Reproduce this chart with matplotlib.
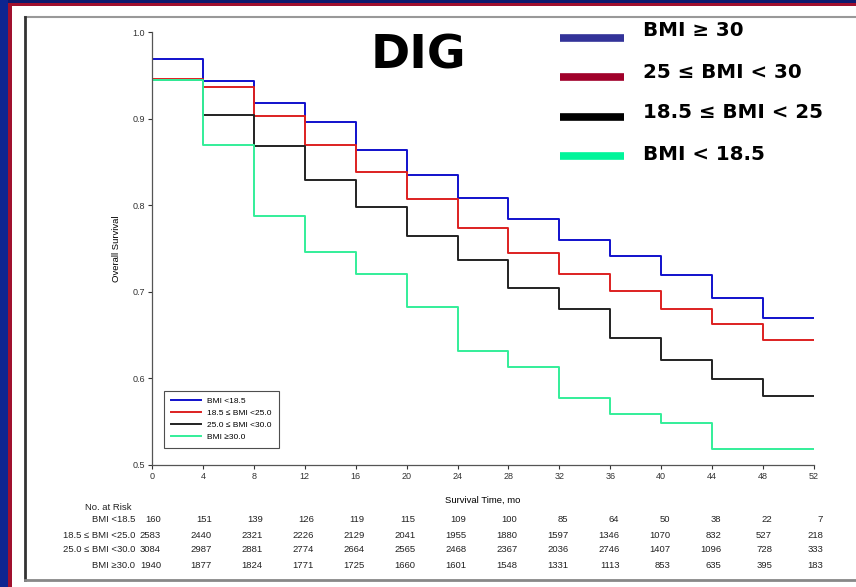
import matplotlib
matplotlib.use("Agg")
import matplotlib.pyplot as plt
from matplotlib.patches import Rectangle
from matplotlib.lines import Line2D

plt.rcParams['font.family'] = ['Liberation Sans', 'DejaVu Sans']

# survival time (months) at the start of each step
months = [0, 4, 8, 12, 16, 20, 24, 28, 32, 36, 40, 44, 48, 52]

# survival estimates
surv_blue = [0.969, 0.943, 0.918, 0.896, 0.864, 0.835, 0.808, 0.784, 0.760, 0.741, 0.719, 0.693, 0.670, 0.670]
surv_red = [0.946, 0.937, 0.903, 0.870, 0.838, 0.807, 0.774, 0.745, 0.720, 0.701, 0.680, 0.663, 0.644, 0.644]
surv_black = [0.945, 0.904, 0.868, 0.829, 0.798, 0.765, 0.737, 0.704, 0.680, 0.647, 0.621, 0.599, 0.580, 0.580]
surv_green = [0.945, 0.870, 0.788, 0.746, 0.720, 0.682, 0.632, 0.613, 0.577, 0.559, 0.548, 0.518, 0.518, 0.518]

inner_labels = ["BMI <18.5", "18.5 \u2264 BMI <25.0", "25.0 \u2264 BMI <30.0", "BMI \u226530.0"]
big_labels = ["BMI \u2265 30", "25 \u2264 BMI < 30", "18.5 \u2264 BMI < 25", "BMI < 18.5"]

# number at risk table
risk_labels = ["BMI <18.5", "18.5 \u2264 BMI <25.0", "25.0 \u2264 BMI <30.0", "BMI \u226530.0"]
risk_bmi_lt185 = [160, 151, 139, 126, 119, 115, 109, 100, 85, 64, 50, 38, 22, 7]
risk_bmi_185_25 = [2583, 2440, 2321, 2226, 2129, 2041, 1955, 1880, 1597, 1346, 1070, 832, 527, 218]
risk_bmi_25_30 = [3084, 2987, 2881, 2774, 2664, 2565, 2468, 2367, 2036, 2746, 1407, 1096, 728, 333]
risk_bmi_ge30 = [1940, 1877, 1824, 1771, 1725, 1660, 1601, 1548, 1331, 1113, 853, 635, 395, 183]

W, H = 856, 587
fig = plt.figure(figsize=(W / 100, H / 100), dpi=100)
fig.patch.set_facecolor('white')

# slide frame
def frame_rect(x0, y0, w, h, color):
    fig.add_artist(Rectangle((x0 / W, 1 - (y0 + h) / H), w / W, h / H,
                             transform=fig.transFigure, color=color, lw=0, zorder=0))

frame_rect(0, 0, W, 3, '#0d1a6e')
frame_rect(0, 3, W, 3, '#a0102e')
frame_rect(0, 0, 8, H, '#0d2590')
frame_rect(8, 3, 4, H, '#a0102e')
fig.add_artist(Line2D([25 / W, 1], [1 - 16.5 / H, 1 - 16.5 / H], transform=fig.transFigure,
                      color='#999999', lw=1.5))
fig.add_artist(Line2D([25 / W, 25 / W], [1 - 16.5 / H, 1 - 580 / H], transform=fig.transFigure,
                      color='#333333', lw=2))
fig.add_artist(Line2D([25 / W, 1], [1 - 580 / H, 1 - 580 / H], transform=fig.transFigure,
                      color='#888888', lw=2))

ax = fig.add_axes([152 / W, 1 - 465 / H, (814 - 152) / W, (465 - 32) / H])
ax.set_facecolor('none')

ax.step(months, surv_blue, where='post', color='#1010cc', lw=1.4, label=inner_labels[0])
ax.step(months, surv_red, where='post', color='#dd2020', lw=1.4, label=inner_labels[1])
ax.step(months, surv_black, where='post', color='#222222', lw=1.4, label=inner_labels[2])
ax.step(months, surv_green, where='post', color='#33ee99', lw=1.4, label=inner_labels[3])

ax.set_xlim(0, 52)
ax.set_ylim(0.5, 1.0)
ax.set_xticks(months)
ax.set_yticks([0.5, 0.6, 0.7, 0.8, 0.9, 1.0])
ax.set_yticklabels(["0.5", "0.6", "0.7", "0.8", "0.9", "1.0"])
ax.tick_params(labelsize=6.5, length=3, width=0.8, colors='#333333', pad=2)
for side in ['top', 'right']:
    ax.spines[side].set_visible(False)
for side in ['left', 'bottom']:
    ax.spines[side].set_color('#555555')
    ax.spines[side].set_linewidth(0.9)
ax.set_xlabel("Survival Time, mo", fontsize=6.8, labelpad=11)
ax.set_ylabel("Overall Survival", fontsize=6.8, labelpad=8)

leg = ax.legend(loc='lower left', bbox_to_anchor=(0.012, 0.03), fontsize=6, frameon=True,
                fancybox=False, edgecolor='#222222', handlelength=3.6, borderpad=0.8,
                labelspacing=0.5)
leg.get_frame().set_linewidth(0.8)

# number at risk table
fig.text(85 / W, 1 - 508 / H, "No. at Risk", fontsize=6.8, va='center', ha='left', color='#222222')
risk_rows = [risk_bmi_lt185, risk_bmi_185_25, risk_bmi_25_30, risk_bmi_ge30]
for i, (lab, row) in enumerate(zip(risk_labels, risk_rows)):
    y = 1 - (520 + 15 * i) / H
    fig.text(135 / W, y, lab, fontsize=6.8, va='center', ha='right', color='#222222')
    for m, n in zip(months, row):
        xf = (152 + (814 - 152) * m / 52 + 9) / W
        fig.text(xf, y, str(n), fontsize=6.8, va='center', ha='right', color='#222222')

# big title and slide legend
fig.text(418 / W, 1 - 56 / H, "DIG", fontsize=34, fontweight='bold', ha='center', va='center',
         family='DejaVu Sans')
big_colors = ['#333399', '#a0002a', '#000000', '#00f59a']
for i, (lab, c) in enumerate(zip(big_labels, big_colors)):
    yl = 1 - (38 + 39.5 * i) / H
    fig.add_artist(Line2D([560 / W, 624 / W], [yl, yl], transform=fig.transFigure, color=c, lw=5.5,
                          solid_capstyle='butt'))
    fig.text(643 / W, 1 - (31 + 41 * i) / H, lab, fontsize=14.3, fontweight='bold',
             ha='left', va='center', family='DejaVu Sans')

fig.savefig("out.png", dpi=100, facecolor=fig.get_facecolor())
